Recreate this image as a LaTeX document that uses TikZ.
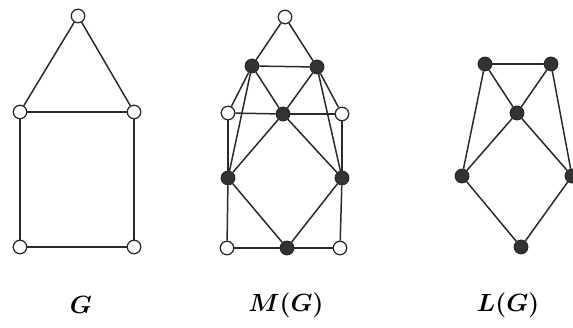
\documentclass[tikz,border=0pt]{standalone}
\usepackage{tikz}
\usepackage{amsmath}
\definecolor{dotfill}{HTML}{333333}
\definecolor{edgecol}{HTML}{2A2A2A}

\begin{document}
\begin{tikzpicture}[
  x=1pt, y=-1pt,
  vtx/.style={circle, draw=edgecol, fill=white, line width=1.3pt, minimum size=13.5pt, inner sep=0pt},
  evx/.style={circle, draw=edgecol, fill=dotfill, line width=1.3pt, minimum size=13.5pt, inner sep=0pt},
  edge/.style={draw=edgecol, line width=1.5pt},
  lbl/.style={font=\fontsize{35}{40}\selectfont\boldmath},
]
\useasboundingbox (0,0) rectangle (573,328);

% G
\node[vtx] (g_top) at (78,16) {};
\node[vtx] (g_lm) at (20,112) {};
\node[vtx] (g_rm) at (134,112) {};
\node[vtx] (g_bl) at (20,247) {};
\node[vtx] (g_br) at (134,247) {};

% M(G)
\node[vtx] (m_top) at (285,17) {};
\node[vtx] (m_lm) at (228,113) {};
\node[vtx] (m_rm) at (342,114) {};
\node[vtx] (m_bl) at (227,248) {};
\node[vtx] (m_br) at (340,248) {};
\node[evx] (m_tl) at (252,66) {};
\node[evx] (m_tr) at (317,67) {};
\node[evx] (m_mid) at (283,114) {};
\node[evx] (m_l) at (228,178) {};
\node[evx] (m_r) at (342,178) {};
\node[evx] (m_bot) at (287,248) {};

% L(G)
\node[evx] (l_tl) at (485,64) {};
\node[evx] (l_tr) at (551,64) {};
\node[evx] (l_mid) at (517,113) {};
\node[evx] (l_l) at (462,176) {};
\node[evx] (l_r) at (572,176) {};
\node[evx] (l_bot) at (521,247) {};

% names
\node[lbl] (g_name) at (81,305) {$G$};
\node[lbl] (m_name) at (286,305) {$M(G)$};
\node[lbl] (l_name) at (508,305) {$L(G)$};

\draw[edge] (g_top) -- (g_lm);
\draw[edge] (g_top) -- (g_rm);
\draw[edge] (g_lm) -- (g_rm);
\draw[edge] (g_lm) -- (g_bl);
\draw[edge] (g_rm) -- (g_br);
\draw[edge] (g_bl) -- (g_br);

\draw[edge] (m_top) -- (m_tl);
\draw[edge] (m_top) -- (m_tr);
\draw[edge] (m_tl) -- (m_tr);
\draw[edge] (m_tl) -- (m_mid);
\draw[edge] (m_tr) -- (m_mid);
\draw[edge] (m_tl) -- (m_lm);
\draw[edge] (m_tr) -- (m_rm);
\draw[edge] (m_tl) -- (m_l);
\draw[edge] (m_tr) -- (m_r);
\draw[edge] (m_lm) -- (m_mid);
\draw[edge] (m_mid) -- (m_rm);
\draw[edge] (m_mid) -- (m_l);
\draw[edge] (m_mid) -- (m_r);
\draw[edge] (m_lm) -- (m_l);
\draw[edge] (m_l) -- (m_bl);
\draw[edge] (m_rm) -- (m_r);
\draw[edge] (m_r) -- (m_br);
\draw[edge] (m_l) -- (m_bot);
\draw[edge] (m_r) -- (m_bot);
\draw[edge] (m_bl) -- (m_bot);
\draw[edge] (m_bot) -- (m_br);

\draw[edge] (l_tl) -- (l_tr);
\draw[edge] (l_tl) -- (l_mid);
\draw[edge] (l_tr) -- (l_mid);
\draw[edge] (l_tl) -- (l_l);
\draw[edge] (l_tr) -- (l_r);
\draw[edge] (l_mid) -- (l_l);
\draw[edge] (l_mid) -- (l_r);
\draw[edge] (l_l) -- (l_bot);
\draw[edge] (l_r) -- (l_bot);

\end{tikzpicture}
\end{document}
